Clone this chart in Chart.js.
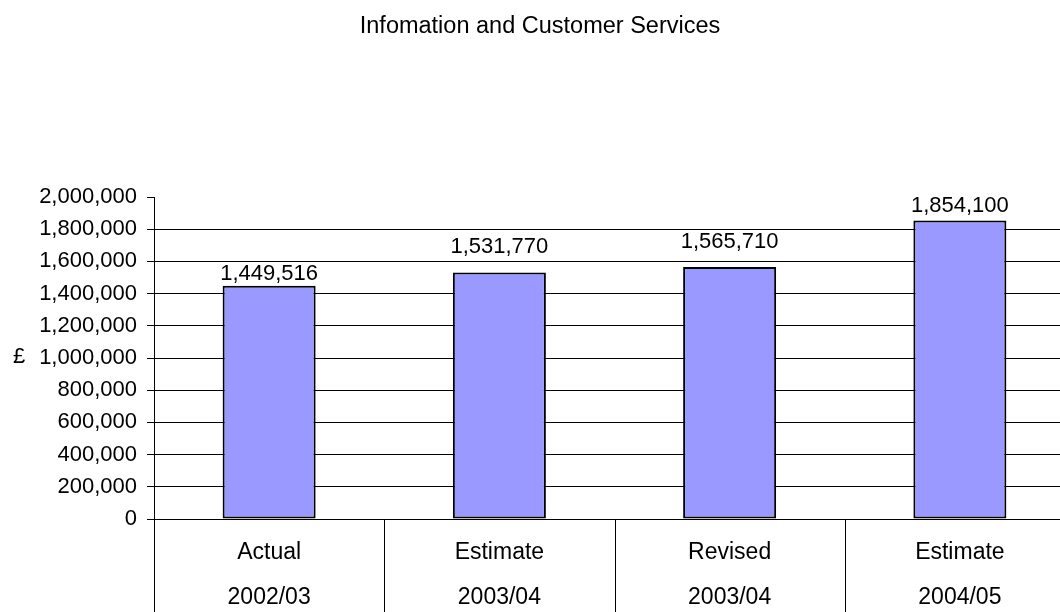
<!DOCTYPE html>
<html>
<head>
<meta charset="utf-8">
<title>Infomation and Customer Services</title>
<script src="https://cdn.jsdelivr.net/npm/chart.js"></script>
<style>
    html, body { margin: 0; padding: 0; background: #fff; overflow: hidden; }
    #wrap { width: 1060px; height: 612px; overflow: hidden; }
    canvas { display: block; }
</style>
</head>
<body>
<div id="wrap"><canvas id="chart" width="1080" height="612"></canvas></div>
<script>
// chart data
const chartTitle = "Infomation and Customer Services";
const stages = ["Actual", "Estimate", "Revised", "Estimate"];
const years = ["2002/03", "2003/04", "2003/04", "2004/05"];
const spend = [1449516, 1531770, 1565710, 1854100];
const yTicks = [0, 200000, 400000, 600000, 800000, 1000000, 1200000, 1400000, 1600000, 1800000, 2000000];
const yAxisTitle = "£";

const FONT = '"Liberation Sans", Arial, sans-serif';
const fmt = v => Number(v).toLocaleString("en-US");

// title, £ label, value labels and the category separators under the axis
const extrasPlugin = {
    id: "extras",
    afterDraw(chart, args, opts) {
        const ctx = chart.ctx;
        const area = chart.chartArea;
        const xScale = chart.scales.x;
        ctx.save();
        ctx.fillStyle = "#000";

        ctx.font = "23.5px " + FONT;
        ctx.textAlign = "center";
        ctx.textBaseline = "alphabetic";
        ctx.fillText(chartTitle, chart.width / 2, 32.5);

        ctx.font = "22px " + FONT;
        ctx.fillText(yAxisTitle, 19, 363);

        // Excel lifted some of the value labels higher than others
        const gaps = opts.labelGap || [];
        const meta = chart.getDatasetMeta(0);
        meta.data.forEach((bar, i) => {
            ctx.fillText(fmt(spend[i]), bar.x, bar.y - (gaps[i] || 6));
        });

        ctx.strokeStyle = "#000";
        ctx.lineWidth = 1;
        for (let i = 0; i <= stages.length; i++) {
            const x = Math.round(xScale.getPixelForValue(i - 0.5)) + 0.5;
            ctx.beginPath();
            ctx.moveTo(x, area.bottom);
            ctx.lineTo(x, chart.height);
            ctx.stroke();
        }
        ctx.restore();
    }
};

const ctx = document.getElementById("chart").getContext("2d");
window.spendChart = new Chart(ctx, {
    type: "bar",
    data: {
        labels: stages.map((s, i) => [s, years[i]]),
        datasets: [{
            data: spend,
            backgroundColor: "#9999FF",
            borderColor: "#000",
            borderWidth: 2,
            borderSkipped: false,
            barPercentage: 0.404,
            categoryPercentage: 1.0
        }]
    },
    options: {
        responsive: false,
        devicePixelRatio: 1,
        animation: false,
        layout: { padding: { top: 197, left: 0, right: 5, bottom: 0 } },
        plugins: {
            legend: { display: false },
            title: { display: false },
            tooltip: { enabled: false },
            extras: { labelGap: [6, 19, 19, 8] }
        },
        scales: {
            x: {
                offset: true,
                afterFit: scale => { scale.height = 93; },
                grid: { display: true, drawOnChartArea: false, drawTicks: false },
                border: { display: true, color: "#000", width: 1 },
                ticks: {
                    color: "#000",
                    padding: 11,
                    maxRotation: 0,
                    autoSkip: false,
                    font: { family: FONT, size: 23, lineHeight: 45 / 23 }
                }
            },
            y: {
                min: 0,
                max: 2000000,
                afterFit: scale => { scale.width = 154; },
                afterBuildTicks: scale => { scale.ticks = yTicks.map(v => ({ value: v })); },
                grid: {
                    color: c => (c.tick && c.tick.value === 2000000) ? "rgba(0,0,0,0)" : "#000",
                    tickColor: "#000",
                    tickLength: 7,
                    lineWidth: 1
                },
                border: { display: true, color: "#000", width: 1 },
                ticks: {
                    color: "#000",
                    padding: 10,
                    font: { family: FONT, size: 22 },
                    callback: v => fmt(v)
                }
            }
        }
    },
    plugins: [extrasPlugin]
});
</script>
</body>
</html>
